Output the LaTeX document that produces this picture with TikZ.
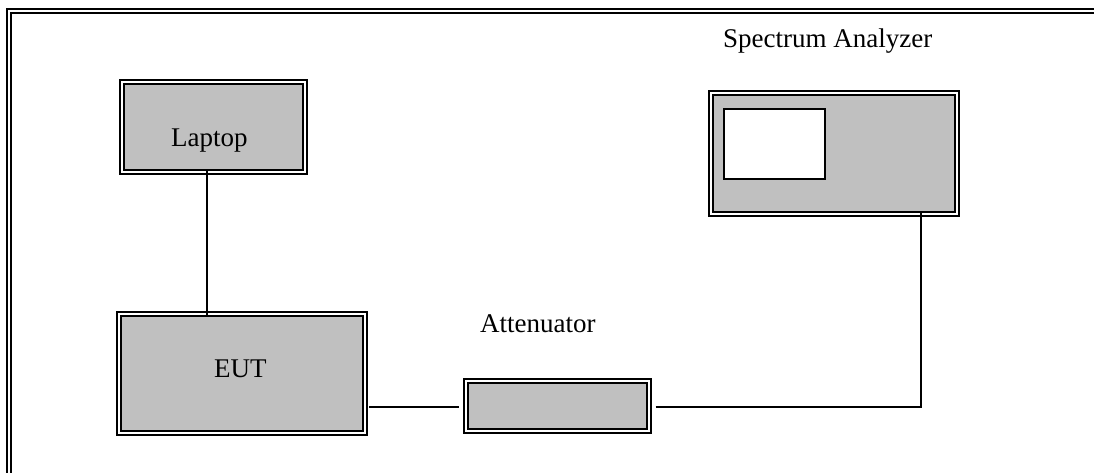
\documentclass[tikz,border=0pt]{standalone}
\usepackage{fontspec}
\setmainfont{Liberation Serif}
\begin{document}
\begin{tikzpicture}[x=1pt,y=-1pt,
  box/.style={draw=black, double=white, line width=2.4pt, double distance=1.3pt,
              fill={rgb,255:red,192;green,192;blue,192}, inner sep=0pt, rectangle},
  wire/.style={line width=2.5pt},
  lbl/.style={font=\fontsize{27}{32}\selectfont, inner sep=0pt, anchor=base west}]
\useasboundingbox (0,0) rectangle (1094,472);
\clip (0,0) rectangle (1094,472);
\fill[white] (0,0) rectangle (1094,472);
% outer frame
\draw[draw=black, double=white, line width=2.3pt, double distance=1.4pt] (9,11) rectangle (1120,500);

\node[box, minimum width=183pt, minimum height=90pt] (laptop) at (213.5,127) {};
\node[box, minimum width=246pt, minimum height=119pt] (eut) at (242,373.5) {};
\node[box, minimum width=183pt, minimum height=50pt] (att) at (557.5,406) {};
\node[box, minimum width=246pt, minimum height=121pt] (sa) at (834,153.5) {};
\node[draw=black, line width=1.2pt, fill=white, minimum width=101pt, minimum height=70pt, inner sep=0pt] (screen) at (774.5,144) {};

\coordinate (corner) at ([xshift=87pt]sa.south |- att.east);
\draw[wire] ([xshift=-6.5pt,yshift=3pt]laptop.south) -- ([xshift=-6.5pt,yshift=-3pt]laptop.south |- eut.north);
\draw[wire] ([xshift=3pt,yshift=-1pt]att.west -| eut.east) -- ([xshift=-5.5pt,yshift=-1pt]att.west);
\draw[wire] ([xshift=5.5pt,yshift=-1pt]att.east) -- ([yshift=-1pt]corner) -- ([xshift=87pt,yshift=3pt]sa.south);

\node[lbl] (tlaptop) at (171,146) {Laptop};
\node[lbl] (teut) at (214,377.5) {EUT};
\node[lbl] (tatt) at (480,332) {Attenuator};
\node[lbl] (tsa) at (723,47) {Spectrum Analyzer};
\end{tikzpicture}
\end{document}
